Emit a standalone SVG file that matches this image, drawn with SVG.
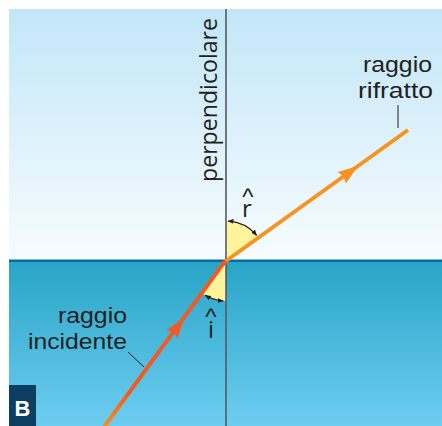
<svg xmlns="http://www.w3.org/2000/svg" width="442" height="426" viewBox="0 0 442 426">
  <defs>
    <linearGradient id="sky" x1="0" y1="0" x2="0" y2="1">
      <stop offset="0" stop-color="#c2e6f8"/>
      <stop offset="1" stop-color="#f7fcfe"/>
    </linearGradient>
    <linearGradient id="water" x1="0" y1="0" x2="0" y2="1">
      <stop offset="0" stop-color="#28a4c6"/>
      <stop offset="1" stop-color="#6dcdf1"/>
    </linearGradient>
    <linearGradient id="incGrad" gradientUnits="userSpaceOnUse" x1="104" y1="426" x2="226" y2="261">
      <stop offset="0" stop-color="#f7901e"/>
      <stop offset="0.2" stop-color="#f15a24"/>
      <stop offset="1" stop-color="#f15a24"/>
    </linearGradient>
    <marker id="tick" viewBox="0 0 10 10" refX="9" refY="5" markerWidth="6" markerHeight="6" orient="auto-start-reverse" markerUnits="userSpaceOnUse">
      <path d="M0,1 L10,5 L0,9 Z" fill="#231f20"/>
    </marker>
    <style>
      .lbl { font-family: "Open Sans", "Liberation Sans", sans-serif; font-size: 24px; fill: #231f20; }
      .lab2 { font-family: "Liberation Sans", sans-serif; font-size: 22.5px; fill: #231f20; }
      .hat { font-family: "Liberation Sans", sans-serif; font-size: 24px; }
      .lead { stroke: #231f20; stroke-width: 1; fill: none; }
      .arc { stroke: #231f20; stroke-width: 1.2; fill: none; marker-start: url(#tick); marker-end: url(#tick); }
      .sector { fill: #fff39c; }
    </style>
  </defs>

  <g id="background">
    <rect x="9" y="9" width="433" height="251" fill="url(#sky)"/>
    <rect x="9" y="260" width="433" height="166" fill="url(#water)"/>
    <rect x="9" y="259.5" width="433" height="2.5" fill="#0a6aa3"/>
  </g>

  <g id="angles">
    <path class="sector" d="M226,261 L226,221 A40,40 0 0 1 258.5,237.7 Z"/>
    <path class="sector" d="M226,261 L226,301 A40,40 0 0 1 202.2,293.2 Z"/>
    <path class="arc" d="M228.1,221.1 A40,40 0 0 1 256.6,235.3"/>
    <path class="arc" d="M223.2,300.9 A40,40 0 0 1 205.3,295.3"/>
  </g>

  <g id="perpendicolare">
    <line x1="226" y1="9" x2="226" y2="426" stroke="#555a5e" stroke-width="1.6"/>
    <text class="lbl" transform="translate(217,182) rotate(-90)" x="0" y="0" font-size="22" textLength="164" lengthAdjust="spacingAndGlyphs">perpendicolare</text>
  </g>

  <g id="connectors">
    <g id="raggio-incidente-ray">
      <path d="M104,427 L218,271 Q222,264 227,260.5" stroke="url(#incGrad)" stroke-width="4" fill="none"/>
      <polygon points="184,318 177.7,338.3 174,332.5 166.5,329.9" fill="#f15a24"/>
    </g>
    <g id="raggio-rifratto-ray">
      <path d="M226,261 L408,130" stroke="#f7931e" stroke-width="4" fill="none" stroke-linecap="butt"/>
      <polygon points="358,166 345.9,183.4 343.5,176.5 337.7,172.0" fill="#f7931e"/>
    </g>
    <line class="lead" x1="398" y1="105" x2="398" y2="128"/>
    <line class="lead" x1="128" y1="352" x2="144" y2="367"/>
  </g>

  <g id="label-rifratto">
    <text class="lab2"><tspan x="363" y="72" textLength="69" lengthAdjust="spacingAndGlyphs">raggio</tspan><tspan x="358" y="98" textLength="75" lengthAdjust="spacingAndGlyphs">rifratto</tspan></text>
  </g>

  <g id="label-incidente">
    <text class="lab2"><tspan x="58" y="323" textLength="69" lengthAdjust="spacingAndGlyphs">raggio</tspan><tspan x="28" y="349" textLength="99" lengthAdjust="spacingAndGlyphs">incidente</tspan></text>
  </g>

  <g id="label-r">
    <text class="lbl" text-anchor="middle"><tspan class="hat" x="248" y="205">^</tspan><tspan x="247" y="217">r</tspan></text>
  </g>

  <g id="label-i">
    <text class="lbl" text-anchor="middle"><tspan class="hat" x="211" y="325">^</tspan><tspan x="211" y="338">i</tspan></text>
  </g>

  <g id="badge">
    <rect x="9" y="385" width="27" height="41" fill="#0c3d63"/>
    <text x="22.5" y="416" font-family="'Liberation Sans', sans-serif" font-weight="bold" font-size="22" fill="#ffffff" text-anchor="middle">B</text>
  </g>
</svg>
